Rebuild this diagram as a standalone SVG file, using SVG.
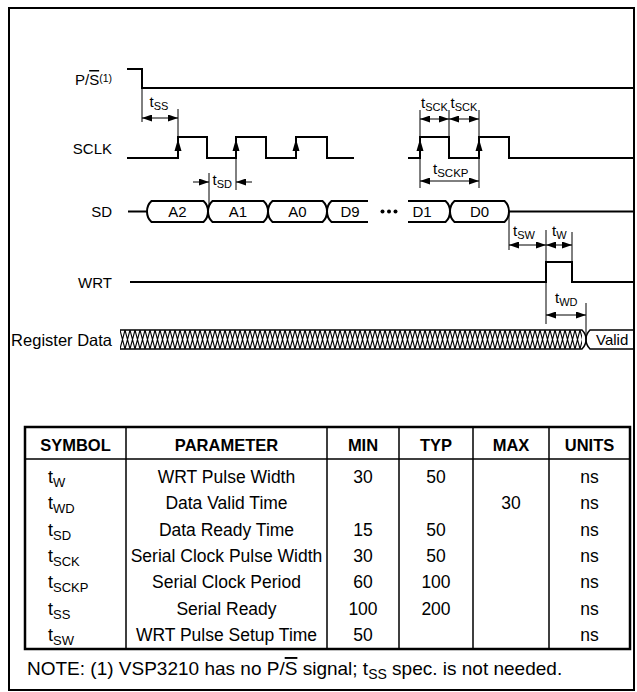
<svg xmlns="http://www.w3.org/2000/svg" width="637" height="692" viewBox="0 0 637 692">
<style>
.w{fill:none;stroke:#000;stroke-width:2;stroke-linejoin:miter}
.tk{fill:none;stroke:#000;stroke-width:1}
.dm{fill:none;stroke:#000;stroke-width:1;marker-start:url(#ah);marker-end:url(#ah)}
.d1{fill:none;stroke:#000;stroke-width:1;marker-end:url(#ah)}
.ra{fill:#000;stroke:none}
.lb{font-family:"Liberation Sans",Arial,sans-serif;font-size:15px;fill:#000}
.lg{font-family:"Liberation Sans",Arial,sans-serif;font-size:16.5px;fill:#000}
.bl{font-family:"Liberation Sans",Arial,sans-serif;font-size:15px;fill:#000;text-anchor:middle}
.tl{font-family:"Liberation Sans",Arial,sans-serif;font-size:15px;fill:#000}
.sb{font-size:11px}
.sb2{font-size:11.5px}
.sup{font-size:10.5px}
.th{font-family:"Liberation Sans",Arial,sans-serif;font-size:16.5px;font-weight:bold;fill:#000;text-anchor:middle}
.tc{font-family:"Liberation Sans",Arial,sans-serif;font-size:17.5px;fill:#000;text-anchor:middle}
.ts{font-family:"Liberation Sans",Arial,sans-serif;font-size:18px;fill:#000}
.ss{font-size:13px}
.nt{font-family:"Liberation Sans",Arial,sans-serif;font-size:19px;fill:#000}
.ns{font-size:14px}
.ol{text-decoration:overline}
.tb{fill:none;stroke:#000;stroke-width:2.5}
.tg{fill:none;stroke:#000;stroke-width:1.5}
</style>
<defs>
<marker id="ah" viewBox="0 0 10 7" refX="10" refY="3.5" markerWidth="10" markerHeight="7" markerUnits="userSpaceOnUse" orient="auto-start-reverse"><path d="M0,0 L10,3.5 L0,7 z" fill="#000"/></marker>
<pattern id="hx" patternUnits="userSpaceOnUse" x="120" y="330" width="5" height="19"><path d="M0,0 L5,19 M5,0 L0,19" stroke="#000" stroke-width="1.1" fill="none"/></pattern>
</defs>
<rect width="637" height="692" fill="#fff"/>
<rect x="9" y="8" width="625" height="682" fill="none" stroke="#000" stroke-width="2"/>

<g id="sig-ps">
<text class="lb" x="112" y="85" text-anchor="end">P/<tspan class="ol">S</tspan><tspan class="sup" dy="-3">(1)</tspan></text>
<path class="w" d="M127,69 L142,69 L142,88 L633,88"/>
</g>

<g id="sig-sclk">
<text class="lb" x="112" y="154" text-anchor="end">SCLK</text>
<path class="w" d="M127,158 L178,158 L178,137 L207,137 L207,158 L236,158 L236,137 L266,137 L266,158 L296,158 L296,137 L327,137 L327,158 L354,158"/>
<path class="w" d="M408,158 L420,158 L420,137 L449,137 L449,158 L479,158 L479,137 L509,137 L509,158 L633,158"/>
<path class="ra" d="M178,139 L174.5,151 L181.5,151 Z M236,139 L232.5,151 L239.5,151 Z M296,139 L292.5,151 L299.5,151 Z M420,139 L416.5,151 L423.5,151 Z M479,139 L475.5,151 L482.5,151 Z"/>
</g>

<g id="sig-sd">
<text class="lb" x="112" y="217" text-anchor="end">SD</text>
<path class="w" d="M128,211.5 L147,211.5"/>
<path class="w" d="M151.5,201 L203.5,201 Q208,205 208,211.5 Q208,218 203.5,222 L151.5,222 Q147,218 147,211.5 Q147,205 151.5,201 Z"/>
<path class="w" d="M212.5,201 L263.5,201 Q268,205 268,211.5 Q268,218 263.5,222 L212.5,222 Q208,218 208,211.5 Q208,205 212.5,201 Z"/>
<path class="w" d="M272.5,201 L322.5,201 Q327,205 327,211.5 Q327,218 322.5,222 L272.5,222 Q268,218 268,211.5 Q268,205 272.5,201 Z"/>
<path class="w" d="M368,201 L331.5,201 Q327,205 327,211.5 Q327,218 331.5,222 L368,222"/>
<path class="w" d="M408,201 L445.5,201 Q450,205 450,211.5 Q450,218 445.5,222 L408,222"/>
<path class="w" d="M454.5,201 L504.5,201 Q509,205 509,211.5 Q509,218 504.5,222 L454.5,222 Q450,218 450,211.5 Q450,205 454.5,201 Z"/>
<path class="w" d="M509,211.5 L633,211.5"/>
<text class="bl" x="177.5" y="217">A2</text>
<text class="bl" x="238" y="217">A1</text>
<text class="bl" x="297.5" y="217">A0</text>
<text class="bl" x="350" y="217">D9</text>
<text class="bl" x="422" y="217">D1</text>
<text class="bl" x="479.5" y="217">D0</text>
<circle cx="382.5" cy="211.5" r="2"/><circle cx="389" cy="211.5" r="2"/><circle cx="395.5" cy="211.5" r="2"/>
</g>

<g id="sig-wrt">
<text class="lb" x="112" y="287.5" text-anchor="end">WRT</text>
<path class="w" d="M130,282 L546,282 L546,262 L572,262 L572,282 L633,282"/>
</g>

<g id="sig-regdata">
<text class="lg" x="112" y="345.5" text-anchor="end">Register Data</text>
<rect x="120" y="330" width="462" height="19" fill="url(#hx)"/>
<path class="tg" d="M120,330 L582,330 Q586,334 586,339.5 Q586,345 582,349 L120,349"/>
<path class="tg" d="M633,330 L590,330 Q586,334 586,339.5 Q586,345 590,349 L633,349"/>
<text class="lb" x="596" y="345">Valid</text>
</g>

<g id="connectors">
<path class="tk" d="M142,88 L142,122 M178,137 L178,109"/>
<path class="dm" d="M142,118 L178,118"/>
<path class="tk" d="M209,173 L209,206 M236,158 L236,190"/>
<path class="d1" d="M193,182 L209,182"/>
<path class="d1" d="M252,182 L236,182"/>
<path class="tk" d="M420,110 L420,188 M449,110 L449,137 M479,110 L479,188"/>
<path class="dm" d="M420,119 L449,119"/>
<path class="dm" d="M449,119 L479,119"/>
<path class="dm" d="M420,181 L479,181"/>
<path class="tk" d="M509,211.5 L509,250 M546,230 L546,262 M572,232 L572,262"/>
<path class="dm" d="M509,245 L546,245"/>
<path class="dm" d="M546,245 L572,245"/>
<path class="tk" d="M546,282 L546,324 M586,303 L586,339.5"/>
<path class="dm" d="M546,315 L586,315"/>
</g>

<g id="timing-labels">
<text class="tl" x="149.5" y="107">t<tspan class="sb" dy="3">SS</tspan></text>
<text class="tl" x="212.5" y="184.5">t<tspan class="sb" dy="3">SD</tspan></text>
<text class="tl" x="421" y="108">t<tspan class="sb" dy="3">SCK</tspan></text>
<text class="tl" x="450.5" y="108">t<tspan class="sb" dy="3">SCK</tspan></text>
<text class="tl" x="433" y="173.5">t<tspan class="sb2" dy="3">SCKP</tspan></text>
<text class="tl" x="513" y="236">t<tspan class="sb" dy="3">SW</tspan></text>
<text class="tl" x="552" y="236">t<tspan class="sb" dy="3">W</tspan></text>
<text class="tl" x="555" y="303">t<tspan class="sb" dy="3">WD</tspan></text>
</g>

<g id="table">
<rect class="tb" x="25" y="427" width="605" height="222"/>
<path class="tg" d="M25,459 L630,459 M126,427 L126,649 M327,427 L327,649 M399,427 L399,649 M473,427 L473,649 M549,427 L549,649"/>
<text class="th" x="75.5" y="451">SYMBOL</text>
<text class="th" x="226.5" y="451">PARAMETER</text>
<text class="th" x="363" y="451">MIN</text>
<text class="th" x="436" y="451">TYP</text>
<text class="th" x="511" y="451">MAX</text>
<text class="th" x="589.5" y="451">UNITS</text>

<text class="ts" x="48" y="483">t<tspan class="ss" dy="4">W</tspan></text>
<text class="tc" x="226.5" y="483">WRT Pulse Width</text>
<text class="tc" x="363" y="483">30</text>
<text class="tc" x="436" y="483">50</text>
<text class="tc" x="589.5" y="483">ns</text>

<text class="ts" x="48" y="509">t<tspan class="ss" dy="4">WD</tspan></text>
<text class="tc" x="226.5" y="509">Data Valid Time</text>
<text class="tc" x="511" y="509">30</text>
<text class="tc" x="589.5" y="509">ns</text>

<text class="ts" x="48" y="535.5">t<tspan class="ss" dy="4">SD</tspan></text>
<text class="tc" x="226.5" y="535.5">Data Ready Time</text>
<text class="tc" x="363" y="535.5">15</text>
<text class="tc" x="436" y="535.5">50</text>
<text class="tc" x="589.5" y="535.5">ns</text>

<text class="ts" x="48" y="562">t<tspan class="ss" dy="4">SCK</tspan></text>
<text class="tc" x="226.5" y="562">Serial Clock Pulse Width</text>
<text class="tc" x="363" y="562">30</text>
<text class="tc" x="436" y="562">50</text>
<text class="tc" x="589.5" y="562">ns</text>

<text class="ts" x="48" y="588">t<tspan class="ss" dy="4">SCKP</tspan></text>
<text class="tc" x="226.5" y="588">Serial Clock Period</text>
<text class="tc" x="363" y="588">60</text>
<text class="tc" x="436" y="588">100</text>
<text class="tc" x="589.5" y="588">ns</text>

<text class="ts" x="48" y="614.5">t<tspan class="ss" dy="4">SS</tspan></text>
<text class="tc" x="226.5" y="614.5">Serial Ready</text>
<text class="tc" x="363" y="614.5">100</text>
<text class="tc" x="436" y="614.5">200</text>
<text class="tc" x="589.5" y="614.5">ns</text>

<text class="ts" x="48" y="641">t<tspan class="ss" dy="4">SW</tspan></text>
<text class="tc" x="226.5" y="641">WRT Pulse Setup Time</text>
<text class="tc" x="363" y="641">50</text>
<text class="tc" x="589.5" y="641">ns</text>
</g>

<g id="note">
<text class="nt" x="27" y="675">NOTE: (1) VSP3210 has no P/<tspan class="ol">S</tspan> signal; t<tspan class="ns" dy="4">SS</tspan><tspan dy="-4"> spec. is not needed.</tspan></text>
</g>
</svg>
